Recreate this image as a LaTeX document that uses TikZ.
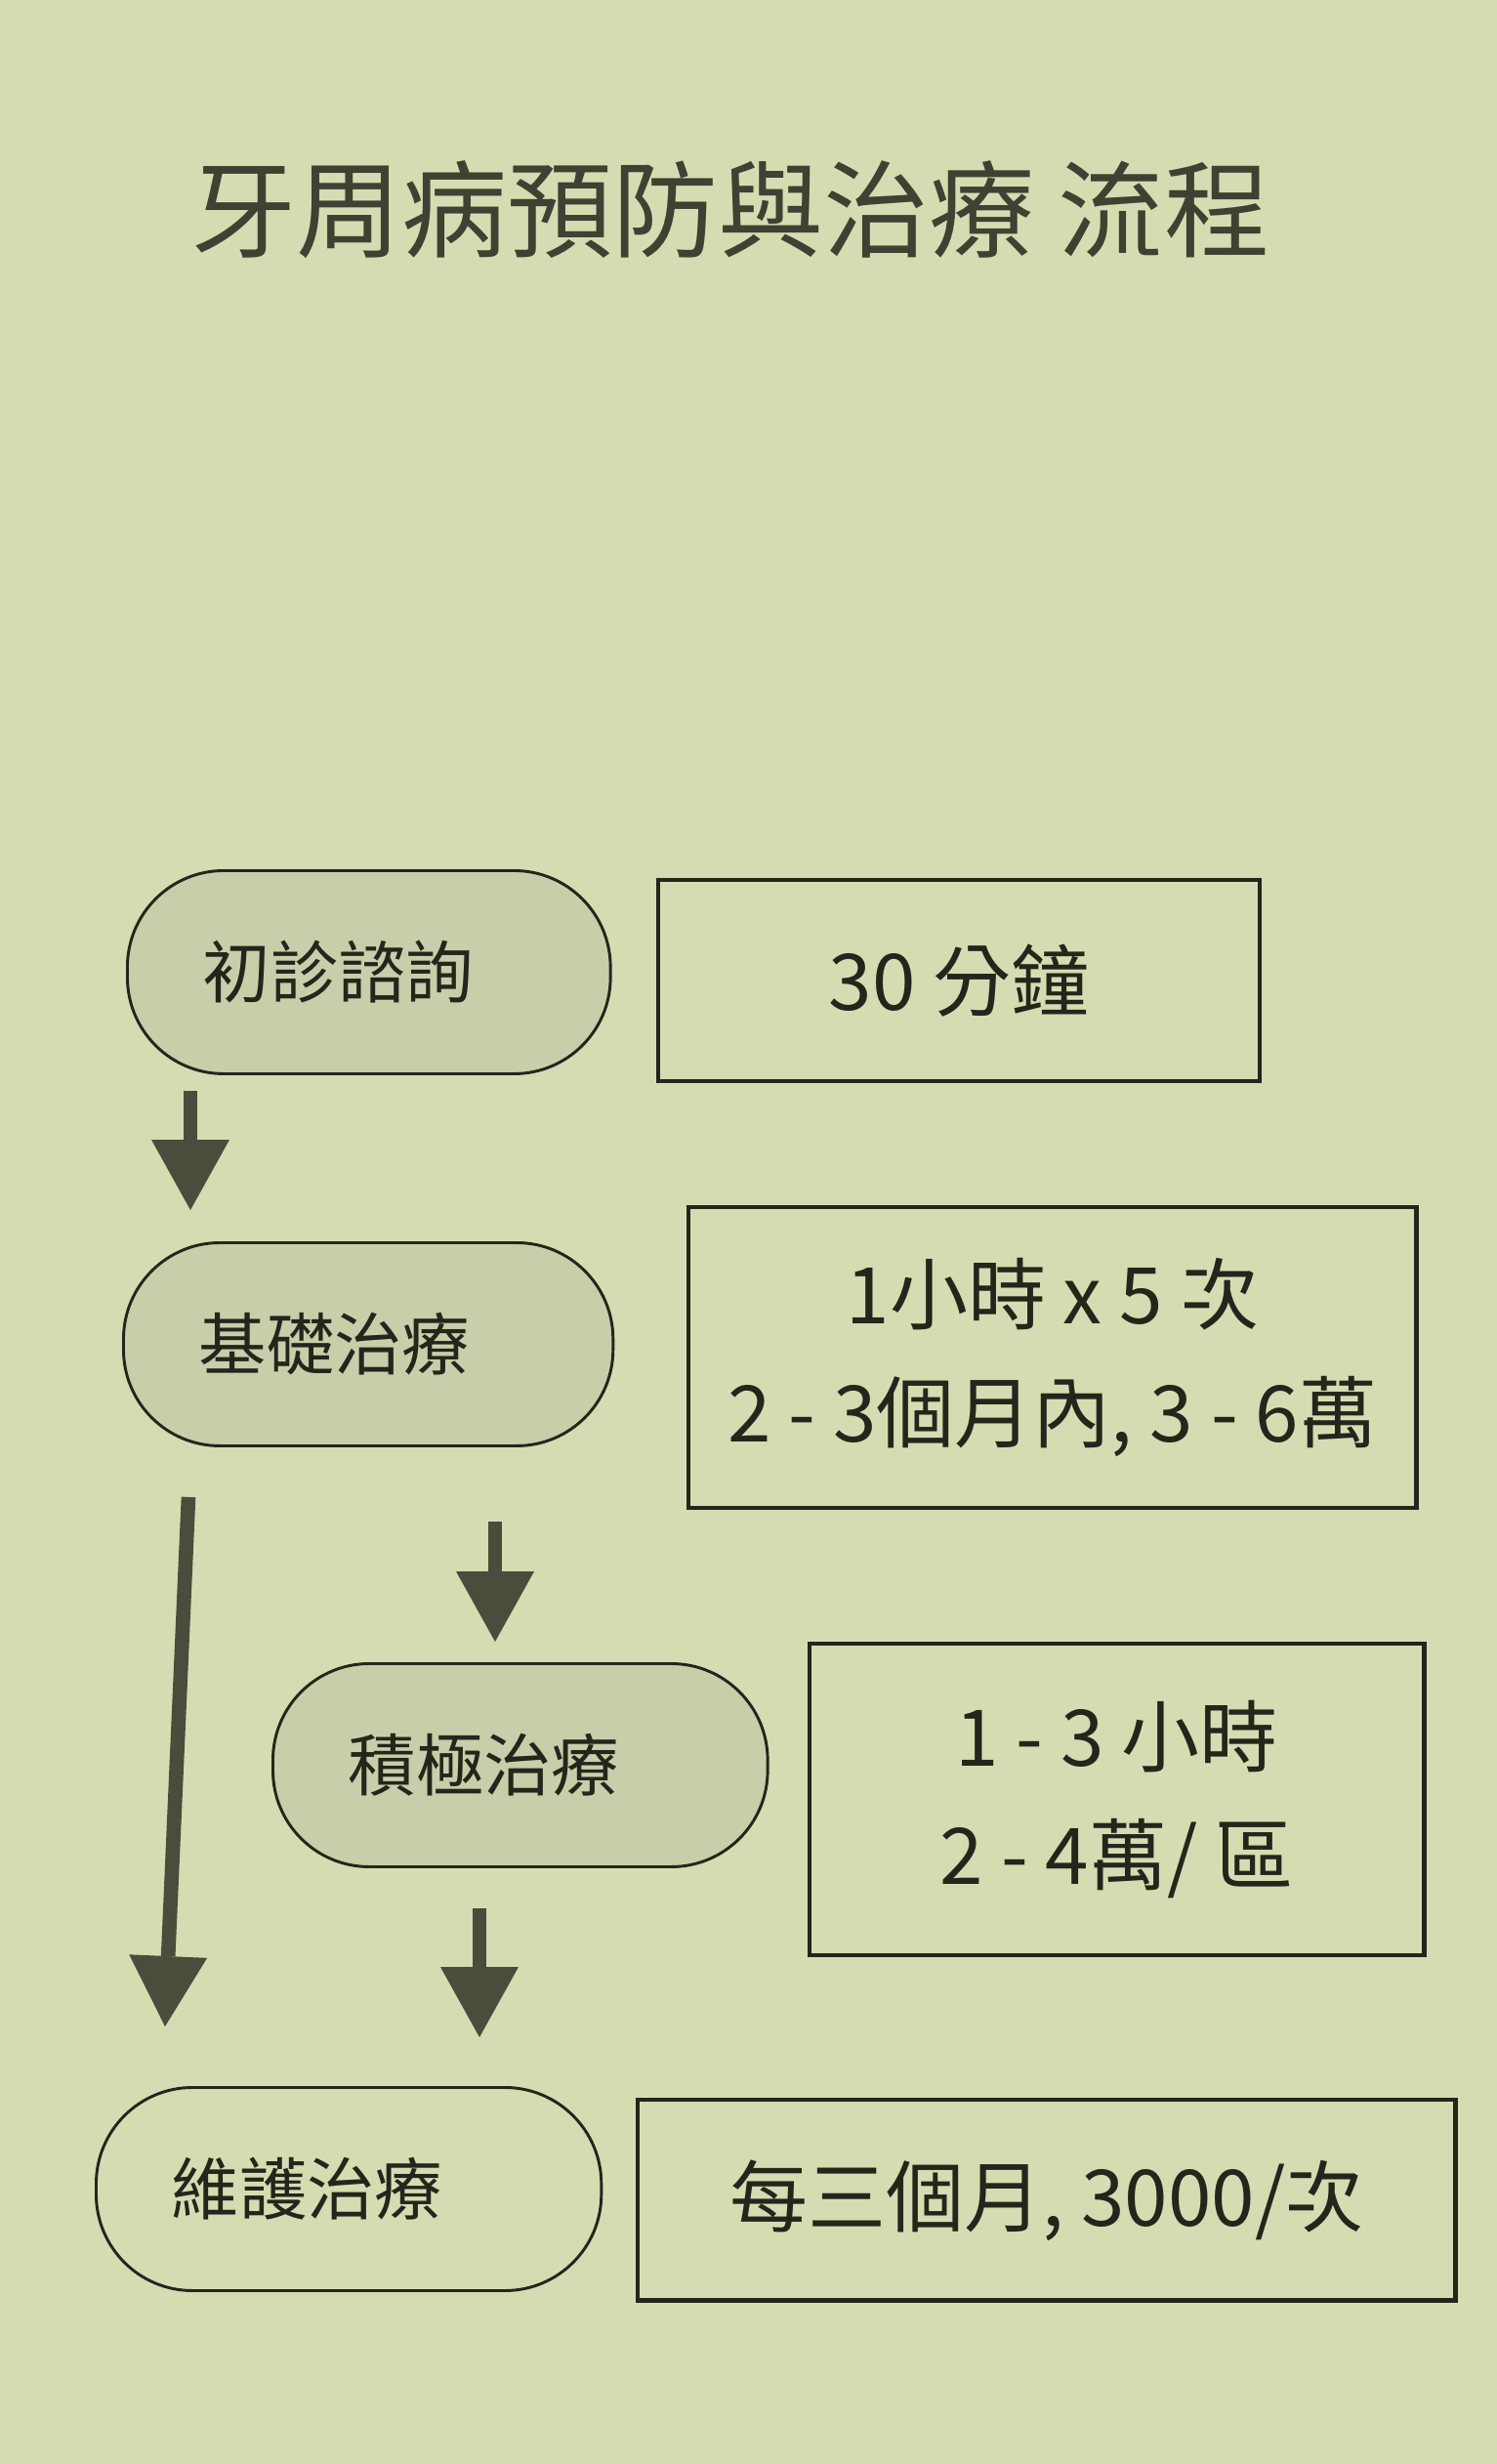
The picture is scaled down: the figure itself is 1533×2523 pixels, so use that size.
\documentclass[tikz,border=0pt]{standalone}
\usepackage{fontspec}
\setmainfont{Noto Sans CJK TC}
\usetikzlibrary{arrows.meta,calc}

\definecolor{paper}{RGB}{214,220,177}
\definecolor{pillfill}{RGB}{201,205,169}
\definecolor{ink}{RGB}{36,38,28}
\definecolor{arrowgray}{RGB}{74,77,60}

\begin{document}
\begin{tikzpicture}[x=0.75pt,y=0.75pt,yscale=-1,xscale=1,
	pill/.style={draw=ink, line width=2.2pt, fill=pillfill, rounded corners=74pt, minimum height=156pt, inner xsep=58pt, inner ysep=0pt, align=left, text width=#1, text=ink, font=\fontsize{52}{60}\selectfont},
	infobox/.style={draw=ink, line width=3.2pt, inner sep=0pt, align=center, text=ink, font=\fontsize{60}{91}\selectfont},
	flow/.style={draw=arrowgray, line width=11pt, -{Triangle[width=60pt,length=54pt,line width=0pt]}}
	]
	%set diagram to the size of the sheet
	\useasboundingbox (0,0) rectangle (1533,2523);
	\fill [paper] (0,0) rectangle (1533,2523);
	
	% Text Node
	\draw (748,215) node (title) [text=ink!85!paper, font=\fontsize{81}{92}\selectfont] {牙周病預防與治療 流程};
	
	%Shape: Pill [id:initial]
	\draw (129,890) node (pill1) [pill=255pt, anchor=north west] {初診諮詢};
	%Shape: Rectangle [id:initial]
	\draw (672,899) node (box1) [infobox, anchor=north west, minimum width=462pt, minimum height=154.5pt] {30 分鐘};
	
	%Shape: Pill [id:basic]
	\draw (125,1271) node (pill2) [pill=260pt, anchor=north west] {基礎治療};
	%Shape: Rectangle [id:basic]
	\draw (703,1234) node (box2) [infobox, anchor=north west, minimum width=559pt, minimum height=231pt] {1小時 x 5 次\\2 - 3個月內, 3 - 6萬};
	
	%Shape: Pill [id:active]
	\draw (278,1702) node (pill3) [pill=264pt, anchor=north west] {積極治療};
	%Shape: Rectangle [id:active]
	\draw (827,1681) node (box3) [infobox, anchor=north west, minimum width=472pt, minimum height=239pt] {1 - 3 小時\\2 - 4萬/ 區};
	
	%Shape: Pill [id:upkeep]
	\draw (97,2136) node (pill4) [pill=272pt, anchor=north west, fill=none] {維護治療};
	%Shape: Rectangle [id:upkeep]
	\draw (651,2148) node (box4) [infobox, anchor=north west, minimum width=628pt, minimum height=154pt] {每三個月, 3000/次};
	
	%Straight Lines [id:arrows]
	\draw [flow] ($(pill1.south west)+(66,16)$) -- ($(pill2.north west)+(70,-32)$);
	\draw [flow] ($(pill2.south west)+(68,51)$) -- ($(pill4.north west)+(72,-61)$);
	\draw [flow] ($(pill2.south west)+(382,76)$) -- ($(pill3.north west)+(229,-21)$);
	\draw [flow] ($(pill3.south west)+(213,41)$) -- ($(pill4.north west)+(394,-50)$);
	
\end{tikzpicture}
\end{document}
